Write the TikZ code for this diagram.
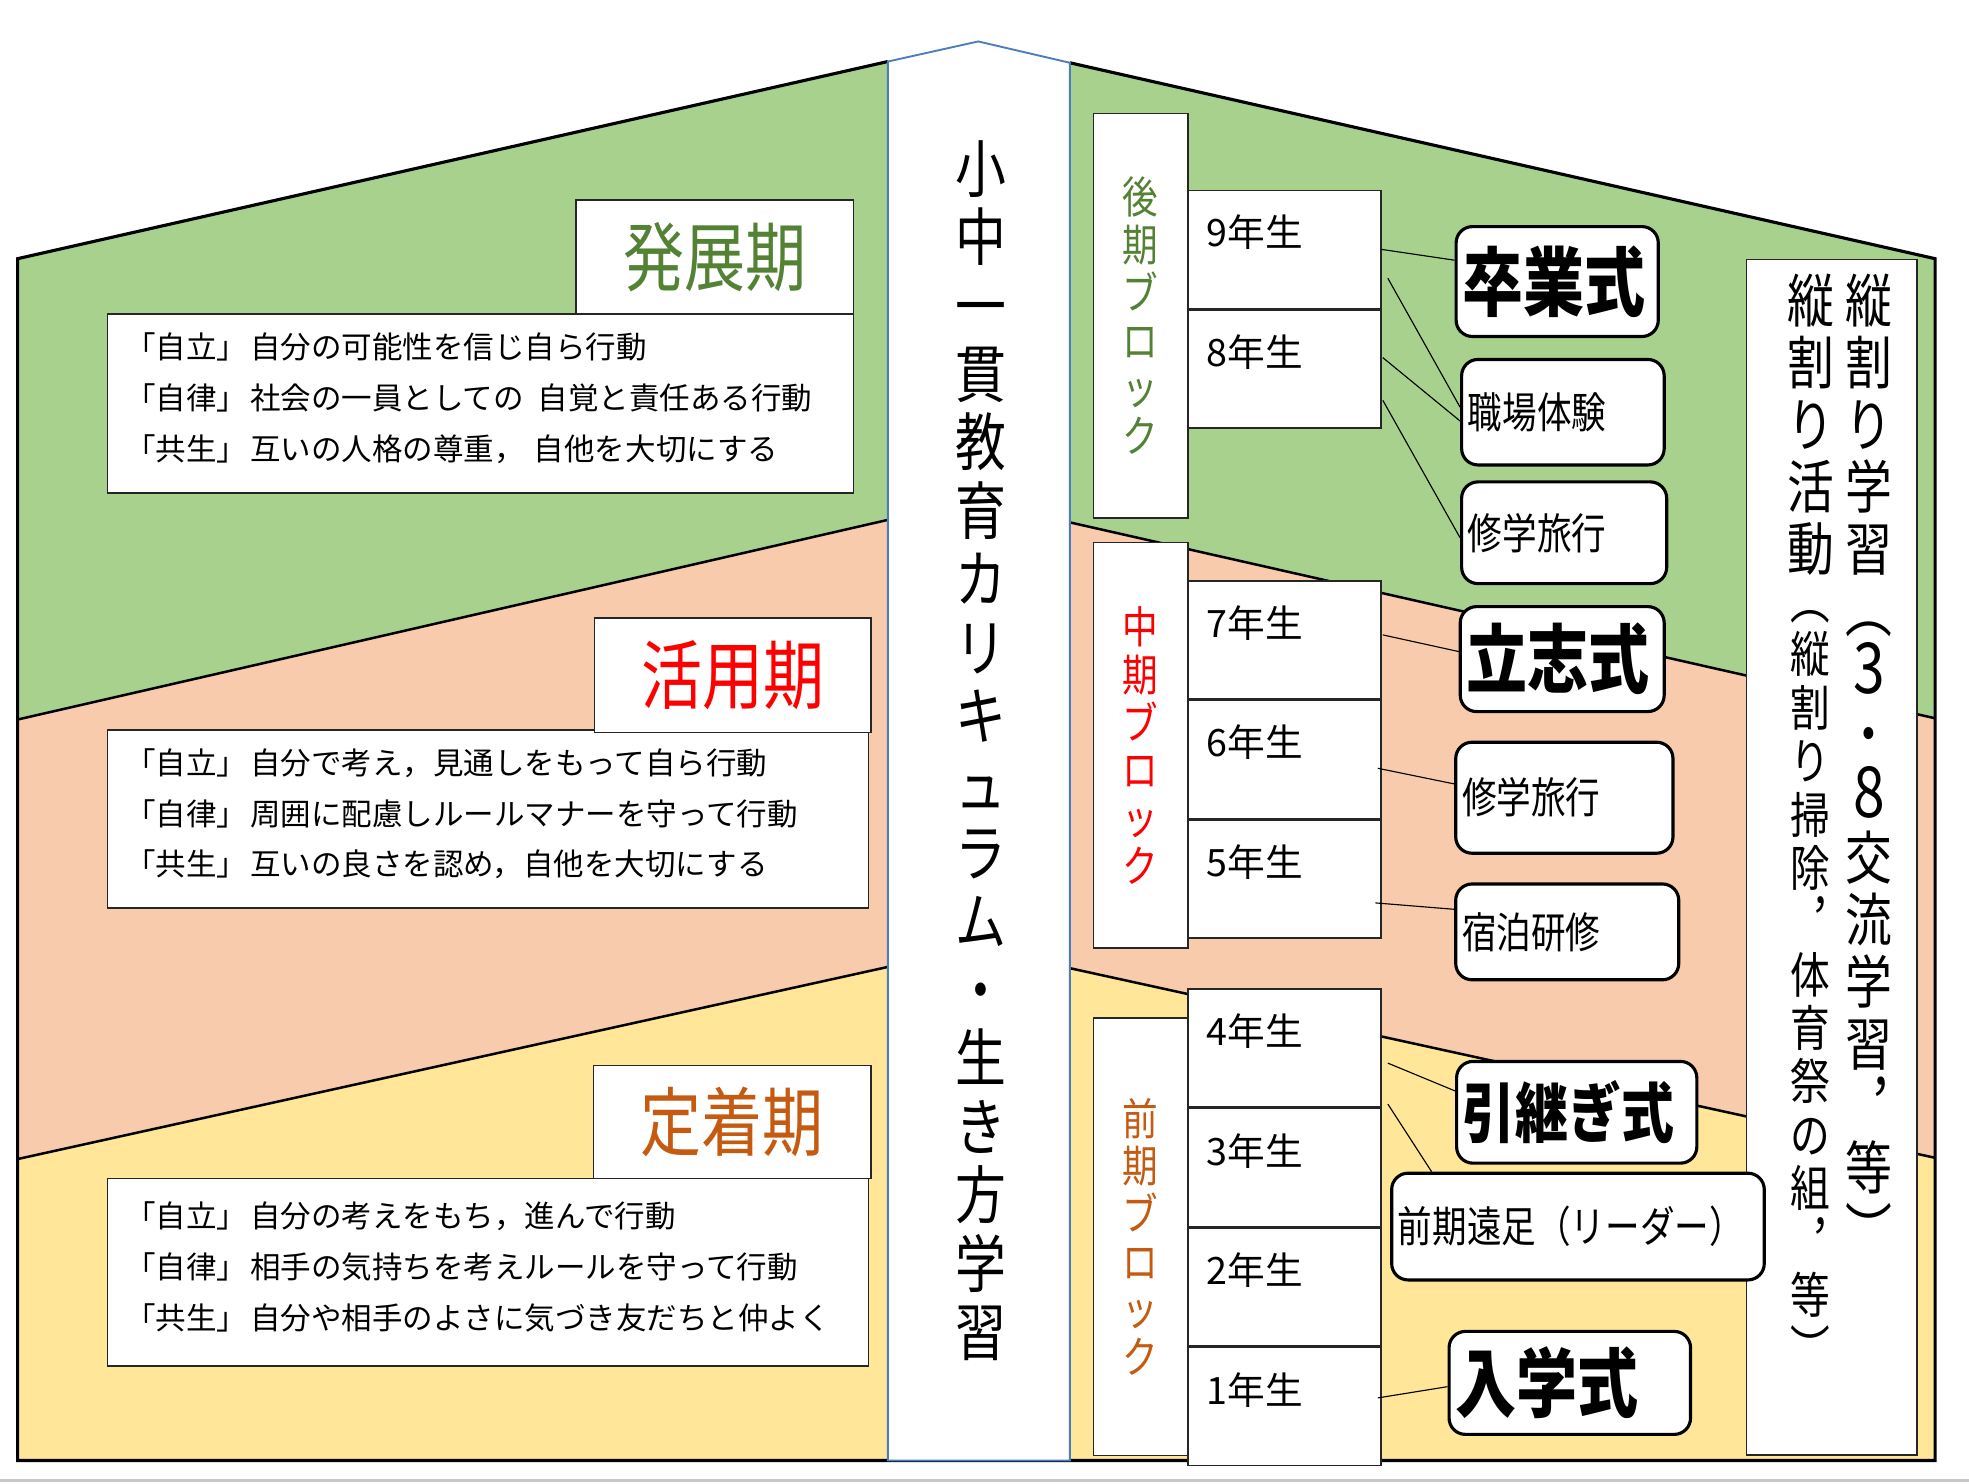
\documentclass[tikz,border=0pt]{standalone}
\usepackage{fontspec}
\setmainfont{Noto Sans CJK JP}
\newfontfamily\jpn[FakeStretch=0.81]{Noto Sans CJK JP}
\usetikzlibrary{positioning,calc}

\definecolor{bandgreen}{HTML}{A9D18E}
\definecolor{bandpeach}{HTML}{F8CBAD}
\definecolor{bandyellow}{HTML}{FFE699}
\definecolor{txtgreen}{HTML}{548235}
\definecolor{txtorange}{HTML}{C55A11}
\definecolor{spineblue}{HTML}{4A7EBB}

\newcommand\bigdigit[1]{{\fontsize{56}{49.3}\selectfont #1}}

\tikzset{
  bandline/.style={line width=2pt},
  linkline/.style={line width=0.9pt},
  titlebox/.style={draw=black!85, line width=1.2pt, fill=white, anchor=north west, inner sep=0pt, font=\jpn\fontsize{60}{60}\selectfont},
  descbox/.style={draw=black!85, line width=1.2pt, fill=white, anchor=north west, inner xsep=14pt, inner ysep=0pt, align=left, text depth=92pt, font=\fontsize{24.3}{40.5}\selectfont},
  blockbox/.style={draw=black!85, line width=1.2pt, fill=white, anchor=north west, minimum width=75.5pt, inner sep=0pt, align=center, font=\jpn\fontsize{35}{38}\selectfont},
  gradebox/.style={draw=black!85, line width=1.2pt, fill=white, anchor=north west, inner xsep=15pt, inner ysep=0pt, text width=123.5pt, align=left, text height=45pt, text depth=49pt, font=\fontsize{30}{30}\selectfont},
  eventbox/.style={draw, line width=2.5pt, rounded corners=13pt, fill=white, anchor=north west, inner xsep=5pt, inner ysep=0pt, align=left},
  evbold/.style={font=\jpn\bfseries\fontsize{60}{60}\selectfont},
  evplain/.style={font=\jpn\fontsize{34}{34}\selectfont},
  tatetext/.style={anchor=north, inner sep=0pt, align=center},
}

\begin{document}
\begin{tikzpicture}[x=1pt,y=-1pt]
\useasboundingbox (0,0) rectangle (1568,1181);
\fill[white] (0,0) rectangle (1568,1181);

\fill[bandgreen] (14,206) -- (707,49) -- (707,414) -- (14,573) -- cycle;
\fill[bandpeach] (14,573) -- (707,414) -- (707,770) -- (14,923) -- cycle;
\fill[bandyellow] (14,923) -- (707,770) -- (707,1163) -- (14,1163) -- cycle;
\fill[bandgreen] (852,50) -- (1541,206) -- (1541,572) -- (852,416) -- cycle;
\fill[bandpeach] (852,416) -- (1541,572) -- (1541,922) -- (852,771) -- cycle;
\fill[bandyellow] (852,771) -- (1541,922) -- (1541,1163) -- (852,1163) -- cycle;
\draw[bandline] (14,573) -- (707,414);
\draw[bandline] (14,923) -- (707,770);
\draw[bandline] (852,416) -- (1541,572);
\draw[bandline] (852,771) -- (1541,922);
\draw[line width=2.5pt] (707,49) -- (14,206) -- (14,1163) -- (1541,1163) -- (1541,206) -- (852,50);
\draw[spineblue, line width=1.5pt, fill=white] (707,49) -- (779,33) -- (852,50) -- (852,1163) -- (707,1163) -- cycle;
\draw[black!22, line width=2pt] (0,1179) -- (1568,1179);

\node[tatetext, font=\jpn\fontsize{50}{54.5}\selectfont] (spine) at (781,111.5) {小\\中\\一\\貫\\教\\育\\カ\\リ\\キ\\ュ\\ラ\\ム\\・\\生\\き\\方\\学\\習};

\node[descbox, minimum width=594pt, minimum height=142.5pt, text width=566pt] (desc1) at (85,249.5) {「自立」\hspace{.1em}自分の可能性を信じ自ら行動\\「自律」\hspace{.1em}社会の一員としての\hspace{.45em}自覚と責任ある行動\\「共生」\hspace{.1em}互いの人格の尊重，\hspace{.3em}自他を大切にする};
\node[titlebox, minimum width=221pt, minimum height=91pt, text=txtgreen] (hatten) at (458,158.5) {発展期};
\node[descbox, minimum width=606pt, minimum height=142pt, text width=578pt] (desc2) at (85,580.6) {「自立」\hspace{.1em}自分で考え，見通しをもって自ら行動\\「自律」\hspace{.1em}周囲に配慮しルールマナーを守って行動\\「共生」\hspace{.1em}互いの良さを認め，自他を大切にする};
\node[titlebox, minimum width=220pt, minimum height=91pt, text=red] (katsuyo) at (473,491.6) {活用期};
\node[descbox, minimum width=606pt, minimum height=149pt, text width=578pt] (desc3) at (85,938) {「自立」\hspace{.1em}自分の考えをもち，進んで行動\\「自律」\hspace{.1em}相手の気持ちを考えルールを守って行動\\「共生」\hspace{.1em}自分や相手のよさに気づき友だちと仲よく};
\node[titlebox, minimum width=221pt, minimum height=90pt, text=txtorange] (teichaku) at (472,848) {定着期};

\node[blockbox, minimum height=322.3pt, text=txtgreen] (koki) at (870,89.7) {後\\期\\ブ\\ロ\\ッ\\ク};
\node[blockbox, minimum height=323pt, text=red] (chuki) at (870,431.5) {中\\期\\ブ\\ロ\\ッ\\ク};
\node[blockbox, minimum height=348.5pt, text=txtorange] (zenki) at (870,810) {前\\期\\ブ\\ロ\\ッ\\ク};

\node[gradebox] (g9) at (945.5,151) {9年生};
\node[gradebox, below=0pt of g9] (g8) {8年生};
\node[gradebox] (g7) at (945.5,462) {7年生};
\node[gradebox, below=0pt of g7] (g6) {6年生};
\node[gradebox, below=0pt of g6] (g5) {5年生};
\node[gradebox] (g4) at (945.5,787) {4年生};
\node[gradebox, below=0pt of g4] (g3) {3年生};
\node[gradebox, below=0pt of g3] (g2) {2年生};
\node[gradebox, below=0pt of g2] (g1) {1年生};

\node[draw=black!85, line width=1.2pt, fill=white, anchor=north west, minimum width=135.7pt, minimum height=952pt] (tate) at (1390.3,206) {};
\node[tatetext, font=\jpn\fontsize{46}{49.3}\selectfont] (tateR) at (1488.5,218) {縦\\割\\り\\学\\習\\︵\\\bigdigit{3}\\・\\\bigdigit{8}\\交\\流\\学\\習\\︐\\等\\︶};
\node[tatetext, font=\jpn\fontsize{46}{49.3}\selectfont] (tateL) at (1442,218) {縦\\割\\り\\活\\動};
\node[tatetext, font=\jpn\fontsize{39}{42.5}\selectfont] (tateLsub) at (1442,486) {︵\\縦\\割\\り\\掃\\除\\︐\\体\\育\\祭\\の\\組\\︐\\等\\︶};

\node[eventbox, evbold, text width=151pt, minimum height=87.5pt] (sotsu) at (1158.3,179.2) {卒業式};
\node[eventbox, evplain, text width=151.3pt, minimum height=84pt] (shokuba) at (1162.7,285) {職場体験};
\node[eventbox, evplain, text width=153.3pt, minimum height=81pt] (shugakuA) at (1162.7,382.5) {修学旅行};
\node[eventbox, evbold, text width=152.4pt, minimum height=83.6pt] (risshi) at (1161.6,481.8) {立志式};
\node[eventbox, evplain, text width=163pt, minimum height=88.4pt] (shugakuB) at (1158,589.8) {修学旅行};
\node[eventbox, evplain, text width=167.6pt, minimum height=76.3pt] (shukuhaku) at (1158,702.7) {宿泊研修};
\node[eventbox, evbold, font=\jpn\bfseries\fontsize{52}{52}\selectfont, text width=181.3pt, minimum height=81pt] (hikitsugi) at (1158.7,844) {引継ぎ式};
\node[eventbox, evplain, text width=286.7pt, minimum height=85pt] (ensoku) at (1107,933) {前期遠足（リーダー）};
\node[eventbox, evbold, text width=182.3pt, minimum height=82pt] (nyugaku) at (1152.7,1059) {入学式};

\draw[linkline] (g9.east) -- ($(sotsu.west)+(0,-17)$);
\draw[linkline] ($(g9.east)+(5,23)$) -- ($(shokuba.west)+(0,-4)$);
\draw[linkline] ($(g8.east)+(1,-9)$) -- ($(shokuba.west)+(0,7)$);
\draw[linkline] ($(g8.east)+(1,25)$) -- ($(shugakuA.west)+(0,4)$);
\draw[linkline] ($(g7.east)+(1,-4)$) -- ($(risshi.west)+(0,-6)$);
\draw[linkline] ($(g6.east)+(-3,7)$) -- ($(shugakuB.west)+(0,-11)$);
\draw[linkline] ($(g5.east)+(-5,19)$) -- ($(shukuhaku.west)+(0,-18)$);
\draw[linkline] ($(g4.east)+(5,12)$) -- ($(hikitsugi.west)+(0,-17)$);
\draw[linkline] ($(g4.south east)+(5,-3)$) -- ($(ensoku.north west)+(33,0)$);
\draw[linkline] ($(g1.east)+(-3,-7)$) -- ($(nyugaku.west)+(0,3)$);
\end{tikzpicture}
\end{document}
